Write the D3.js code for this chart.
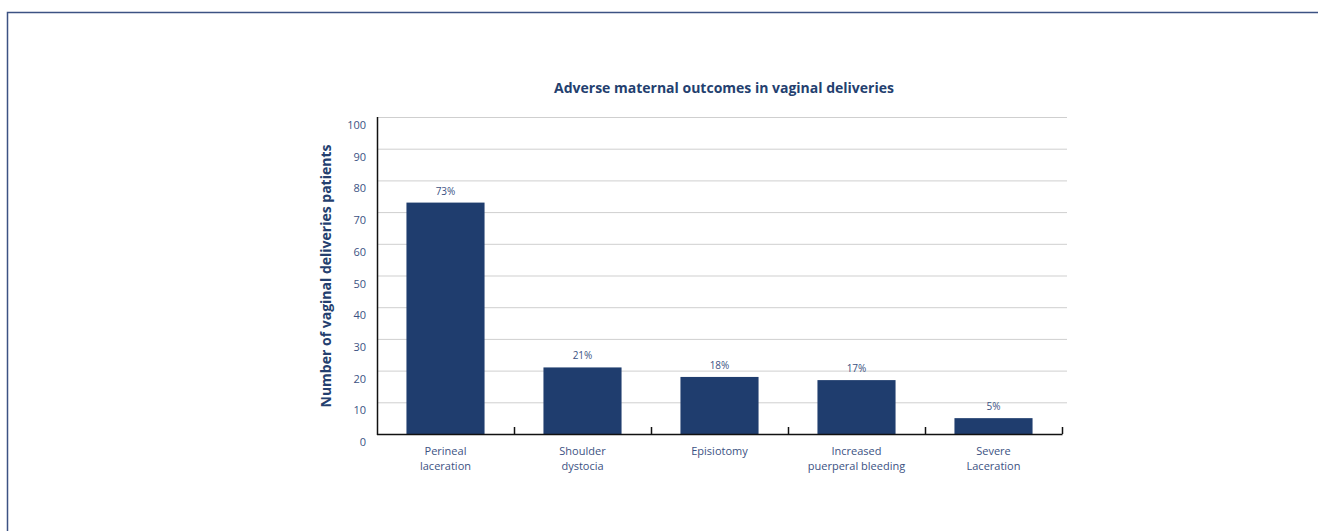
<!DOCTYPE html>
<html>
<head>
<meta charset="utf-8">
<script src="https://cdn.jsdelivr.net/npm/d3@7"></script>
<style>
  body { margin: 0; background: #fff; }
  svg { display: block; font-family: "Open Sans", "Noto Sans", sans-serif; }
</style>
</head>
<body>
<div id="container"></div>
<script>
// data
const categories = [
  ["Perineal", "laceration"],
  ["Shoulder", "dystocia"],
  ["Episiotomy"],
  ["Increased", "puerperal bleeding"],
  ["Severe", "Laceration"]
];
const values = [73, 21, 18, 17, 5];
const yTicks = [0, 10, 20, 30, 40, 50, 60, 70, 80, 90, 100];

const w = 1318;
const h = 531;
const plotLeft = 377, plotRight = 1062, plotTop = 117, plotBottom = 434;

const svg = d3.select("#container").append("svg")
  .attr("width", w)
  .attr("height", h);

// frame border
svg.append("path")
  .attr("d", `M7.5,${h} L7.5,12.5 L${w},12.5`)
  .attr("fill", "none")
  .attr("stroke", "#3c5283")
  .attr("stroke-width", 1.5);

const x = d3.scaleBand()
  .domain(d3.range(categories.length))
  .range([plotLeft, plotRight])
  .paddingInner(0.43)
  .paddingOuter(0.215);

const y = d3.scaleLinear()
  .domain([0, 100])
  .range([plotBottom, plotTop]);

// gridlines
svg.append("g")
  .selectAll("line")
  .data(yTicks.filter(d => d > 0))
  .join("line")
  .attr("x1", plotLeft)
  .attr("x2", 1067)
  .attr("y1", d => y(d) + 0.5)
  .attr("y2", d => y(d) + 0.5)
  .attr("stroke", "#cfcfcf")
  .attr("stroke-width", 1);

// y tick labels
svg.append("g")
  .selectAll("text")
  .data(yTicks)
  .join("text")
  .attr("x", 366)
  .attr("y", d => y(d) + 12)
  .attr("text-anchor", "end")
  .attr("font-size", 11)
  .attr("fill", "#3c5283")
  .text(d => d);

// bars
svg.append("g")
  .selectAll("rect")
  .data(values)
  .join("rect")
  .attr("x", (d, i) => x(i))
  .attr("width", x.bandwidth())
  .attr("y", d => y(d))
  .attr("height", d => y(0) - y(d))
  .attr("fill", "#1f3d6e");

// value labels
svg.append("g")
  .selectAll("text")
  .data(values)
  .join("text")
  .attr("x", (d, i) => x(i) + x.bandwidth() / 2)
  .attr("y", d => y(d) - 8)
  .attr("text-anchor", "middle")
  .attr("font-size", 10)
  .attr("fill", "#3c5283")
  .text(d => d + "%");

// axes lines
svg.append("line")
  .attr("x1", plotLeft + 0.5).attr("x2", plotLeft + 0.5)
  .attr("y1", plotTop).attr("y2", plotBottom + 1)
  .attr("stroke", "#111").attr("stroke-width", 1.5);

svg.append("line")
  .attr("x1", plotLeft).attr("x2", plotRight + 0.5)
  .attr("y1", plotBottom + 0.5).attr("y2", plotBottom + 0.5)
  .attr("stroke", "#111").attr("stroke-width", 1.5);

// x ticks at band edges, pointing up
const step = x.step();
svg.append("g")
  .selectAll("line")
  .data(d3.range(1, categories.length + 1))
  .join("line")
  .attr("x1", i => plotLeft + i * step + 0.5)
  .attr("x2", i => plotLeft + i * step + 0.5)
  .attr("y1", plotBottom - 7)
  .attr("y2", plotBottom)
  .attr("stroke", "#111").attr("stroke-width", 1.5);

// category labels
svg.append("g")
  .selectAll("text")
  .data(categories)
  .join("text")
  .attr("x", (d, i) => x(i) + x.bandwidth() / 2)
  .attr("y", 455)
  .attr("text-anchor", "middle")
  .attr("font-size", 11)
  .attr("fill", "#3c5283")
  .selectAll("tspan")
  .data(d => d)
  .join("tspan")
  .attr("x", function () { return d3.select(this.parentNode).attr("x"); })
  .attr("dy", (d, i) => i === 0 ? 0 : 15)
  .text(d => d);

// title
svg.append("text")
  .attr("x", 724)
  .attr("y", 93)
  .attr("text-anchor", "middle")
  .attr("font-size", 14)
  .attr("font-weight", "bold")
  .attr("fill", "#243f6f")
  .text("Adverse maternal outcomes in vaginal deliveries");

// y axis title
svg.append("text")
  .attr("transform", `translate(331, 276) rotate(-90)`)
  .attr("text-anchor", "middle")
  .attr("font-size", 14)
  .attr("font-weight", "bold")
  .attr("fill", "#243f6f")
  .text("Number of vaginal deliveries patients");
</script>
</body>
</html>
